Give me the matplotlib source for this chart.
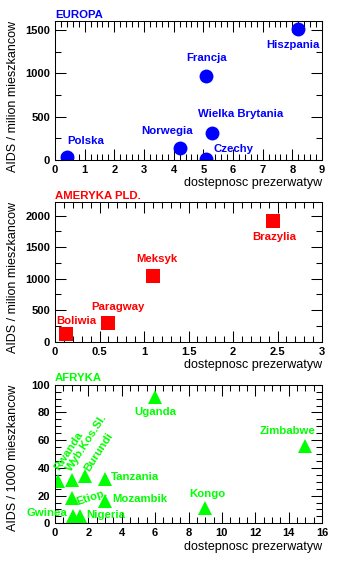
import numpy as np
from matplotlib import pyplot as plt
from matplotlib.ticker import MultipleLocator, FormatStrFormatter

plt.rcParams['font.family'] = ['Liberation Sans', 'DejaVu Sans']

# --- data ---
eu_names = ["Polska", "Norwegia", "Czechy", "Francja", "Wielka Brytania", "Hiszpania"]
eu_x = [0.4, 4.2, 5.1, 5.1, 5.3, 8.2]
eu_y = [30, 140, 10, 970, 310, 1510]
eu_lbl_x = [1.03, 3.78, 6.0, 5.11, 6.26, 8.02]
eu_lbl_y = [223, 338, 127, 1173, 527, 1327]

am_names = ["Boliwia", "Paragway", "Meksyk", "Brazylia"]
am_x = [0.12, 0.6, 1.1, 2.45]
am_y = [120, 300, 1040, 1910]
am_lbl_x = [0.24, 0.71, 1.14, 2.46]
am_lbl_y = [328, 545, 1307, 1667]

af_names = ["Rwanda", "Wyb.Kos.Sl.", "Burundi", "Etiop.", "Gwinea", "Nigeria",
            "Tanzania", "Mozambik", "Uganda", "Kongo", "Zimbabwe"]
af_x = [0.2, 1.0, 1.8, 1.0, 1.05, 1.5, 3.0, 3.0, 6.0, 9.0, 15.0]
af_y = [30.5, 31.5, 34, 18, 5, 5, 32, 16, 91, 11, 56]
af_lbl_x = [0.26, 0.96, 2.06, 1.34, -0.5, 1.9, 3.35, 3.45, 6.0, 9.12, 13.93]
af_lbl_y = [37.7, 37.2, 37.2, 13.5, 7.7, 6.0, 33.2, 17.3, 80.5, 21.2, 66.8]
af_rot = [57, 57, 57, 18, 0, 0, 0, 0, 0, 0, 0]
af_ha = ["left", "left", "left", "left", "center", "left", "left", "left",
         "center", "center", "center"]

BLUE = "#0000ff"
RED = "#ff0000"
GREEN = "#00ff00"
FS = 8.2


def style_axes(ax, xmaj, xmin, ymaj, ymin, xlabel, ylabel, title, color):
    ax.xaxis.set_major_locator(MultipleLocator(xmaj))
    ax.xaxis.set_minor_locator(MultipleLocator(xmin))
    ax.yaxis.set_major_locator(MultipleLocator(ymaj))
    ax.yaxis.set_minor_locator(MultipleLocator(ymin))
    ax.xaxis.set_major_formatter(FormatStrFormatter("%g"))
    ax.yaxis.set_major_formatter(FormatStrFormatter("%g"))
    ax.tick_params(which="both", direction="in", top=True, right=True, width=0.75,
                   labelsize=8, pad=3.5)
    ax.tick_params(which="major", length=8)
    ax.tick_params(which="minor", length=4)
    for lbl in ax.get_xticklabels() + ax.get_yticklabels():
        lbl.set_fontweight("bold")
    for sp in ax.spines.values():
        sp.set_linewidth(0.75)
    ax.set_xlabel(xlabel, loc="right", fontsize=9)
    ax.xaxis.set_label_coords(1.0, -0.168)
    ax.xaxis.label.set_va("center")
    ax.set_ylabel(ylabel, loc="top", fontsize=9)
    ax.yaxis.set_label_coords(-0.157, 1.0)
    ax.yaxis.label.set_va("center")
    ax.text(0.0, 1.045, title, transform=ax.transAxes, ha="left", va="center",
            color=color, fontsize=FS, fontweight="bold")


fig = plt.figure(figsize=(3.4, 5.66), dpi=100)

# Europa
ax1 = fig.add_axes([0.1618, 0.7173, 0.7853, 0.2456])
ax1.plot(eu_x, eu_y, "o", color=BLUE, markersize=10, markeredgewidth=0)
for name, lx, ly in zip(eu_names, eu_lbl_x, eu_lbl_y):
    ax1.text(lx, ly, name, color=BLUE, fontsize=FS, fontweight="bold",
             ha="center", va="center")
ax1.set_xlim(0, 9)
ax1.set_ylim(0, 1604)
style_axes(ax1, 1, 0.2, 500, 250, "dostepnosc prezerwatyw",
           "AIDS / milion mieszkancow", "EUROPA", BLUE)

# Ameryka pld.
ax2 = fig.add_axes([0.1618, 0.3963, 0.7853, 0.2463])
ax2.plot(am_x, am_y, "s", color=RED, markersize=10.3, markeredgewidth=0)
for name, lx, ly in zip(am_names, am_lbl_x, am_lbl_y):
    ax2.text(lx, ly, name, color=RED, fontsize=FS, fontweight="bold",
             ha="center", va="center")
ax2.set_xlim(0, 3)
ax2.set_ylim(0, 2213)
style_axes(ax2, 0.5, 0.1, 500, 250, "dostepnosc prezerwatyw",
           "AIDS / milion mieszkancow", "AMERYKA PLD.", RED)

# Afryka
ax3 = fig.add_axes([0.1618, 0.0754, 0.7853, 0.2449])
ax3.plot(af_x, af_y, "^", color=GREEN, markersize=10.5, markeredgewidth=0)
for name, lx, ly, rot, ha in zip(af_names, af_lbl_x, af_lbl_y, af_rot, af_ha):
    if rot:
        ax3.text(lx, ly, name, color=GREEN, fontsize=FS, fontweight="bold",
                 ha="left", va="baseline", rotation=rot, rotation_mode="anchor")
    else:
        ax3.text(lx, ly, name, color=GREEN, fontsize=FS, fontweight="bold",
                 ha=ha, va="center")
ax3.set_xlim(0, 16)
ax3.set_ylim(0, 100)
style_axes(ax3, 2, 0.5, 20, 5, "dostepnosc prezerwatyw",
           "AIDS / 1000 mieszkancow", "AFRYKA", GREEN)

fig.savefig("out.png", dpi=100)
